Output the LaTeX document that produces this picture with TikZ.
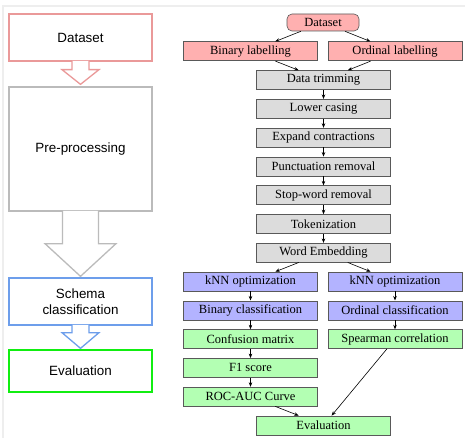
\documentclass[tikz,border=0pt]{standalone}
\usepackage{fontspec}
\setmainfont{Liberation Serif}
\newfontfamily\sansA{Liberation Sans}
\usetikzlibrary{arrows.meta,calc}
\definecolor{cPinkL}{HTML}{EA9999}
\definecolor{cGrayL}{HTML}{BBBBBB}
\definecolor{cBlueL}{HTML}{6D9EEB}
\definecolor{cGreenL}{HTML}{11EE11}
\definecolor{fPink}{HTML}{FFB0B0}
\definecolor{fGray}{HTML}{DCDCDC}
\definecolor{fBlue}{HTML}{B3B3FF}
\definecolor{fGreen}{HTML}{B3FFB3}
\definecolor{frameC}{HTML}{EEEEEE}
\begin{document}
\begin{tikzpicture}[x=1pt,y=-1pt,
  lbox/.style={draw, line width=1.3pt, minimum width=143pt, inner sep=2pt, align=center,
    font=\sansA\fontsize{13.4}{16}\selectfont},
  blockarr/.style={line width=1.3pt, fill=white, line join=miter},
  rbox/.style={draw=black!65, line width=0.6pt, minimum width=134pt, minimum height=19pt,
    inner sep=0pt, font=\fontsize{12.5}{14}\selectfont},
  conn/.style={-{Stealth[length=4.5pt,width=3.5pt]}, line width=0.6pt},
]
\useasboundingbox (0,0) rectangle (465,438);
% faint frame
\draw[frameC, line width=1.5pt] (3,438) -- (3,6) -- (465,6);

% ---- left column ----
\node[lbox, draw=cPinkL, minimum height=47pt] (lds) at (80.5,37.5) {Dataset};
\node[lbox, draw=cGrayL, minimum height=124pt] (lpp) at (80.5,149) {Pre-processing};
\node[lbox, draw=cBlueL, minimum height=47pt] (lsc) at (80.5,301.5) {Schema\\classification};
\node[lbox, draw=cGreenL, minimum height=42pt] (lev) at (80.5,371) {Evaluation};

\draw[blockarr, draw=cPinkL] ($(lds.south)+(-8.5,-0.8)$) -- ($(lds.south)+(-8.5,8)$) -- ($(lds.south)+(-18.5,8)$)
  -- ($(lpp.north)+(0,-2)$) -- ($(lds.south)+(18.5,8)$) -- ($(lds.south)+(8.5,8)$) -- ($(lds.south)+(8.5,-0.8)$);
\draw[blockarr, draw=cGrayL] ($(lpp.south)+(-18,-0.8)$) -- ($(lpp.south)+(-18,32)$) -- ($(lpp.south)+(-35.5,32)$)
  -- ($(lsc.north)+(0,-1)$) -- ($(lpp.south)+(35.5,32)$) -- ($(lpp.south)+(18,32)$) -- ($(lpp.south)+(18,-0.8)$);
\draw[blockarr, draw=cBlueL] ($(lsc.south)+(-8.5,-0.8)$) -- ($(lsc.south)+(-8.5,7)$) -- ($(lsc.south)+(-18.5,7)$)
  -- ($(lev.north)+(0,-1)$) -- ($(lsc.south)+(18.5,7)$) -- ($(lsc.south)+(8.5,7)$) -- ($(lsc.south)+(8.5,-0.8)$);

% ---- right column ----
\node[rbox, fill=fPink, minimum width=72pt, minimum height=17pt, rounded corners=5pt] (ds) at (323,22.5) {Dataset};
\node[rbox, fill=fPink] (bl) at (250.5,51.3) {Binary labelling};
\node[rbox, fill=fPink] (ol) at (395,51.3) {Ordinal labelling};
\node[rbox, fill=fGray] (dt) at (323.5,80.1) {Data trimming};
\node[rbox, fill=fGray] (lc) at (323.5,108.8) {Lower casing};
\node[rbox, fill=fGray] (ec) at (323.5,137.6) {Expand contractions};
\node[rbox, fill=fGray] (pr) at (323.5,166.4) {Punctuation removal};
\node[rbox, fill=fGray] (sw) at (323.5,195.2) {Stop-word removal};
\node[rbox, fill=fGray] (tk) at (323.5,224.0) {Tokenization};
\node[rbox, fill=fGray] (we) at (323.5,252.7) {Word Embedding};
\node[rbox, fill=fBlue] (kl) at (250.5,281.5) {kNN optimization};
\node[rbox, fill=fBlue] (kr) at (395,281.5) {kNN optimization};
\node[rbox, fill=fBlue] (bc) at (250.5,310.3) {Binary classification};
\node[rbox, fill=fBlue] (oc) at (395,310.3) {Ordinal classification};
\node[rbox, fill=fGreen] (cm) at (250.5,339.1) {Confusion matrix};
\node[rbox, fill=fGreen] (sp) at (395,339.1) {Spearman correlation};
\node[rbox, fill=fGreen] (f1) at (250.5,367.9) {F1 score};
\node[rbox, fill=fGreen] (roc) at (250.5,396.6) {ROC-AUC Curve};
\node[rbox, fill=fGreen] (ev) at (323.5,425.4) {Evaluation};

\draw[conn] (ds) -- (bl);
\draw[conn] (ds) -- (ol);
\draw[conn] (bl) -- (dt);
\draw[conn] (ol) -- (dt);
\draw[conn] (dt) -- (lc);
\draw[conn] (lc) -- (ec);
\draw[conn] (ec) -- (pr);
\draw[conn] (pr) -- (sw);
\draw[conn] (sw) -- (tk);
\draw[conn] (tk) -- (we);
\draw[conn] (we) -- (kl);
\draw[conn] (we) -- (kr);
\draw[conn] (kl) -- (bc);
\draw[conn] (bc) -- (cm);
\draw[conn] (cm) -- (f1);
\draw[conn] (f1) -- (roc);
\draw[conn] (roc) -- (ev);
\draw[conn] (kr) -- (oc);
\draw[conn] (oc) -- (sp);
\draw[conn] (sp) -- (ev);
\end{tikzpicture}
\end{document}
